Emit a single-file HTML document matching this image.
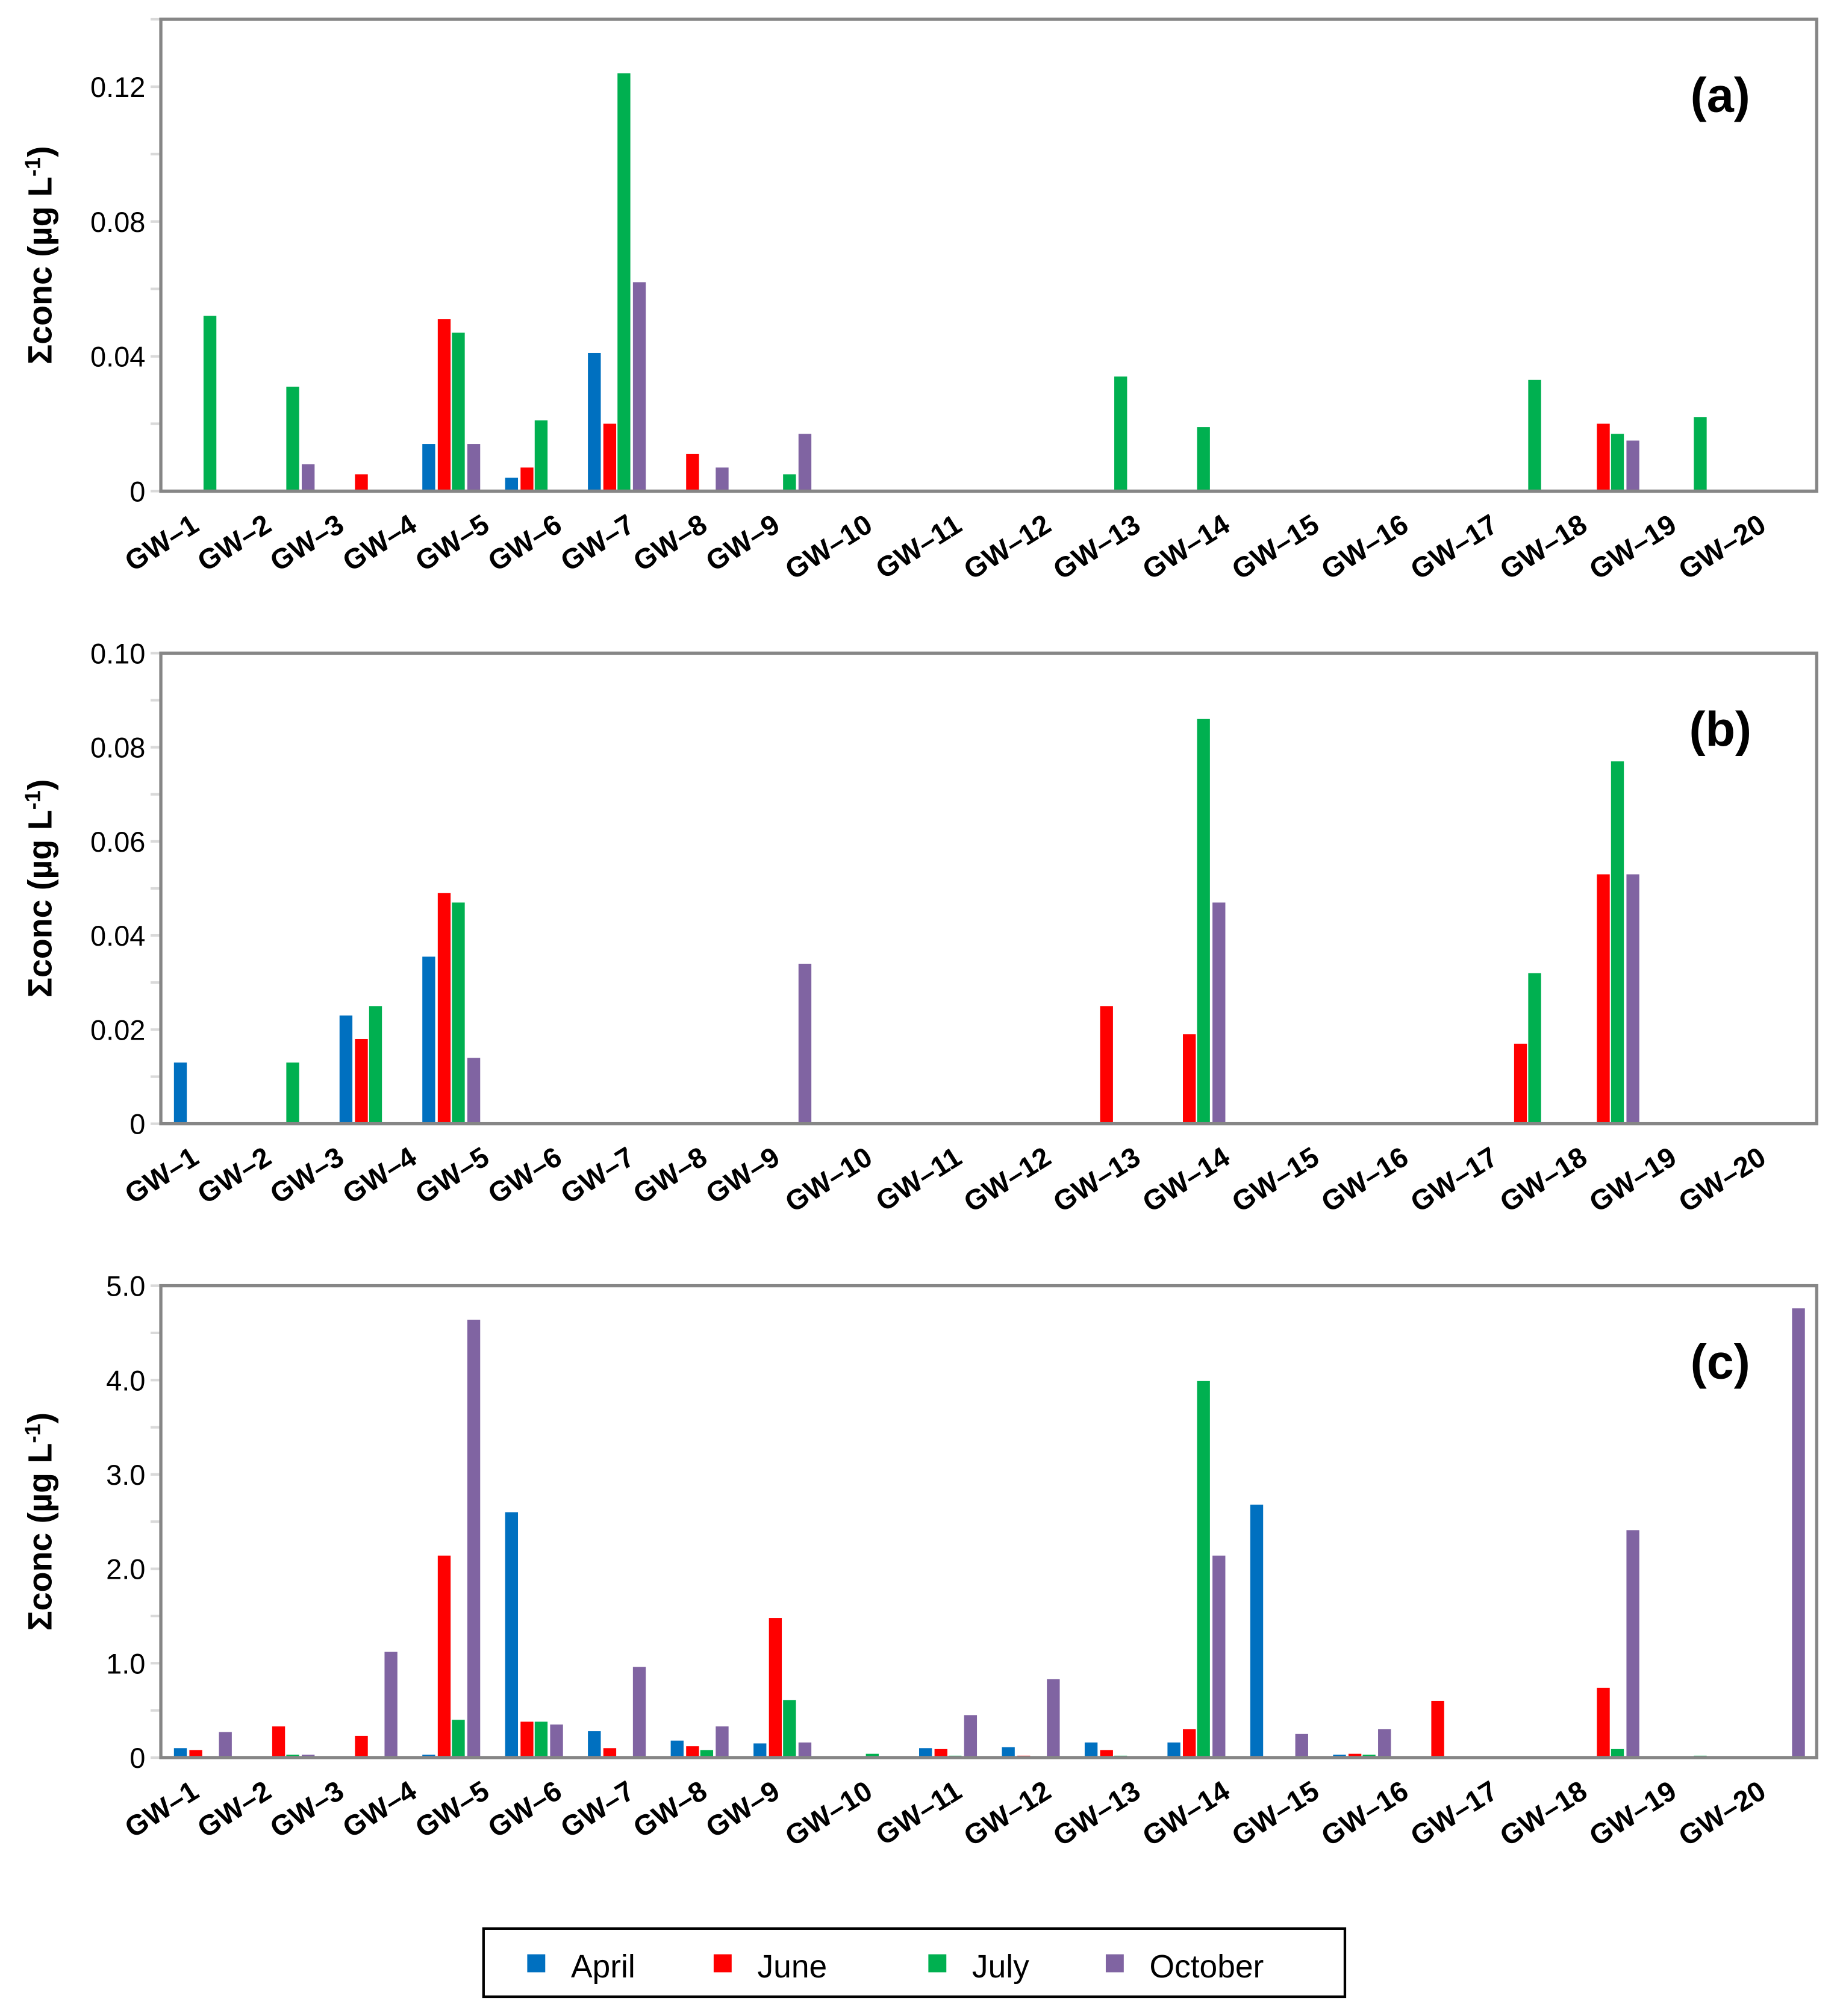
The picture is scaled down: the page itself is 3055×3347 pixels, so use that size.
<!DOCTYPE html>
<html><head><meta charset="utf-8"><style>html,body{margin:0;padding:0;background:#fff}svg{display:block}</style></head>
<body>
<svg id="chart" width="3055" height="3347" viewBox="0 0 1431 1568" xmlns="http://www.w3.org/2000/svg" font-family="'Liberation Sans', sans-serif"></svg>
<script>
const categories = ["GW–1","GW–2","GW–3","GW–4","GW–5","GW–6","GW–7","GW–8","GW–9","GW–10","GW–11","GW–12","GW–13","GW–14","GW–15","GW–16","GW–17","GW–18","GW–19","GW–20"];
const seriesNames = ["April","June","July","October"];
const seriesColors = ["#0070c0","#ff0000","#00b050","#8064a2"];
// panel (a)
const aApril   = [0,0,0,0.014,0.004,0.041,0,0,0,0,0,0,0,0,0,0,0,0,0,0];
const aJune    = [0,0,0.005,0.051,0.007,0.020,0.011,0,0,0,0,0,0,0,0,0,0,0.020,0,0];
const aJuly    = [0.052,0.031,0,0.047,0.021,0.124,0,0.005,0,0,0,0.034,0.019,0,0,0,0.033,0.017,0.022,0];
const aOctober = [0,0.008,0,0.014,0,0.062,0.007,0.017,0,0,0,0,0,0,0,0,0,0.015,0,0];
const aTicks = ["0","0.04","0.08","0.12"];
const aTickVals = [0,0.04,0.08,0.12];
// panel (b)
const bApril   = [0.013,0,0.023,0.0355,0,0,0,0,0,0,0,0,0,0,0,0,0,0,0,0];
const bJune    = [0,0,0.018,0.049,0,0,0,0,0,0,0,0.025,0.019,0,0,0,0.017,0.053,0,0];
const bJuly    = [0,0.013,0.025,0.047,0,0,0,0,0,0,0,0,0.086,0,0,0,0.032,0.077,0,0];
const bOctober = [0,0,0,0.014,0,0,0,0.034,0,0,0,0,0.047,0,0,0,0,0.053,0,0];
const bTicks = ["0","0.02","0.04","0.06","0.08","0.10"];
const bTickVals = [0,0.02,0.04,0.06,0.08,0.10];
// panel (c)
const cApril   = [0.10,0,0,0.03,2.60,0.28,0.18,0.15,0,0.10,0.11,0.16,0.16,2.68,0.03,0,0,0,0,0];
const cJune    = [0.08,0.33,0.23,2.14,0.38,0.10,0.12,1.48,0,0.09,0.02,0.08,0.30,0,0.04,0.60,0,0.74,0,0];
const cJuly    = [0,0.03,0,0.40,0.38,0,0.08,0.61,0.04,0.02,0,0.02,3.99,0,0.03,0,0,0.09,0.02,0];
const cOctober = [0.27,0.03,1.12,4.64,0.35,0.96,0.33,0.16,0,0.45,0.83,0,2.14,0.25,0.30,0,0,2.41,0,4.76];
const cTicks = ["0","1.0","2.0","3.0","4.0","5.0"];
const cTickVals = [0,1,2,3,4,5];

const NS="http://www.w3.org/2000/svg";
const svg=document.getElementById('chart');
function mk(tag,attrs,parent){const e=document.createElementNS(NS,tag);for(const k in attrs)e.setAttribute(k,attrs[k]);(parent||svg).appendChild(e);return e;}
const X0=125,X1=1413,GW=(X1-X0)/20;
function xCenter(i){return X0+GW*(i+0.5);}
function labelEnd(i){return i<9 ? 156+56.5*i : 680+69.5*(i-9);}
const offsets=[-17,-5,6,18],BW=10;

function panel(key,top,bottom,ymax,minorStep,series,ticks,tickVals,label){
  const g=mk('g',{});
  
  
  const y=v=>bottom-(v/ymax)*(bottom-top);
  for(let v=0;v<=ymax+1e-9;v+=minorStep){
    const t=mk('line',{x1:X0-8,x2:X0,y1:y(v),y2:y(v),stroke:'#d9d9d9','stroke-width':2},g);
    
    
  }
  tickVals.forEach((v,k)=>{
    const t=mk('text',{x:X0-12,y:y(v)+8,'text-anchor':'end','font-size':22,fill:'#000'},g);
    t.textContent=ticks[k];
    
    
  });
  series.forEach((arr,s)=>{
    arr.forEach((v,i)=>{
      if(v<=0)return;
      const r=mk('rect',{x:xCenter(i)+offsets[s]-BW/2,y:y(v),width:BW,height:bottom-y(v),fill:seriesColors[s]},g);
      
      
    });
  });
  const fr=mk('rect',{x:X0,y:top,width:X1-X0,height:bottom-top,fill:'none',stroke:'#868686','stroke-width':2.5},g);
  
  
  categories.forEach((c,i)=>{
    const tx=labelEnd(i),ty=bottom+30;
    const t=mk('text',{x:tx,y:ty,'text-anchor':'end','font-size':22,'font-weight':'bold',transform:`rotate(-32 ${tx} ${ty})`},g);
    t.textContent=c;
    
    
  });
  const cy=(top+bottom)/2;
  const yt=mk('text',{x:40,y:cy,'text-anchor':'middle','font-size':26,'font-weight':'bold',transform:`rotate(-90 40 ${cy})`},g);
  yt.innerHTML='Σconc (µg L<tspan dy="-9" font-size="17">-1</tspan><tspan dy="9">)</tspan>';
  
  
  const pl=mk('text',{x:1338,y:top+72,'text-anchor':'middle','font-size':38,'font-weight':'bold'},g);
  pl.textContent=label;
  
  
}
panel('a',15,382,0.14,0.02,[aApril,aJune,aJuly,aOctober],aTicks,aTickVals,'(a)');
panel('b',508,874,0.10,0.01,[bApril,bJune,bJuly,bOctober],bTicks,bTickVals,'(b)');
panel('c',1000,1367,5.0,0.5,[cApril,cJune,cJuly,cOctober],cTicks,cTickVals,'(c)');

const lg=mk('g',{});


const lb=mk('rect',{x:376,y:1500,width:670,height:53,fill:'#fff',stroke:'#000','stroke-width':2},lg);


const lx=[410,555,722,860];
seriesNames.forEach((n,s)=>{
  const sw=mk('rect',{x:lx[s],y:1520,width:14,height:14,fill:seriesColors[s]},lg);
  
  
  const t=mk('text',{x:lx[s]+34,y:1538,'font-size':25},lg);
  t.textContent=n;
  
  
});
</script>
</body></html>
